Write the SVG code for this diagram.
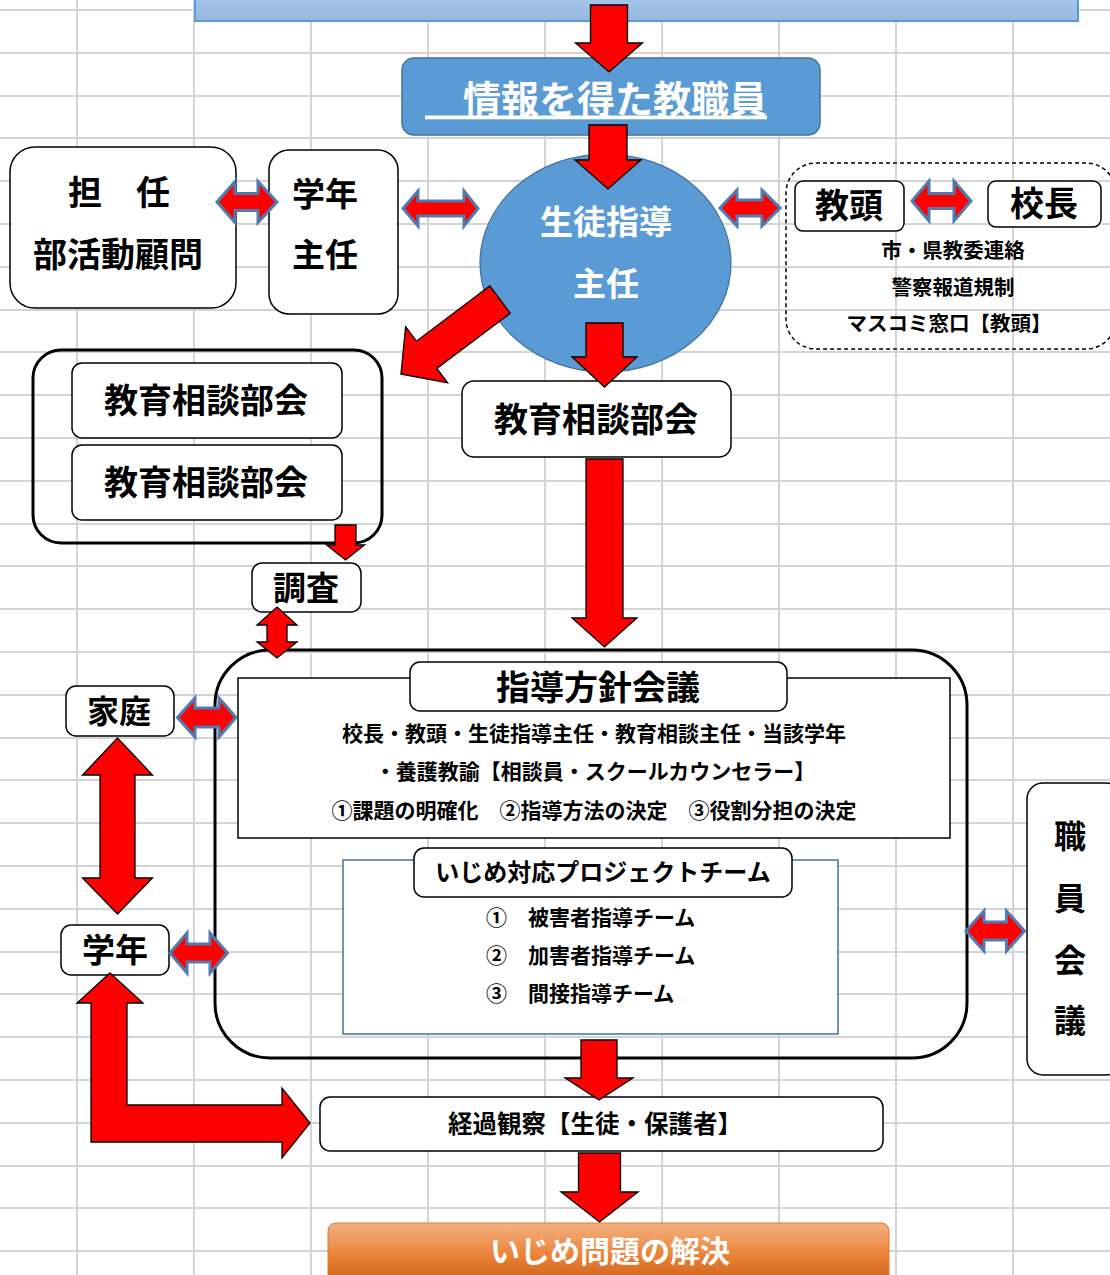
<svg xmlns="http://www.w3.org/2000/svg" width="1110" height="1275" viewBox="0 0 1110 1275">
<style>
.grid line{stroke:#d4d4d4;stroke-width:2}
.box{fill:#fff;stroke:#000;stroke-width:1.5}
.t{font-family:"Noto Sans CJK JP","Noto Sans",sans-serif;font-weight:700;fill:#000;text-anchor:middle;dominant-baseline:central}
.l{text-anchor:start}
.w{fill:#fff}
.red{fill:#ff0000;stroke:#000;stroke-width:1.3;stroke-linejoin:miter}
.dbl{fill:#ff0000;stroke:#4f7bb0;stroke-width:3;stroke-linejoin:miter}
</style>
<defs>
<linearGradient id="gTop" x1="0" y1="0" x2="0" y2="1"><stop offset="0" stop-color="#b4d0ef"/><stop offset="1" stop-color="#95b8e2"/></linearGradient>
<linearGradient id="gOr" x1="0" y1="0" x2="0" y2="1"><stop offset="0" stop-color="#f4b183"/><stop offset="0.5" stop-color="#e97f33"/><stop offset="1" stop-color="#c0540f"/></linearGradient>
</defs>
<rect width="1110" height="1275" fill="#fff"/>
<g class="grid">
<line x1="77" y1="0" x2="77" y2="1275"/><line x1="194" y1="0" x2="194" y2="1275"/><line x1="311" y1="0" x2="311" y2="1275"/><line x1="428" y1="0" x2="428" y2="1275"/><line x1="545" y1="0" x2="545" y2="1275"/><line x1="662" y1="0" x2="662" y2="1275"/><line x1="779" y1="0" x2="779" y2="1275"/><line x1="896" y1="0" x2="896" y2="1275"/><line x1="1013" y1="0" x2="1013" y2="1275"/>
<line x1="0" y1="10" x2="1110" y2="10"/><line x1="0" y1="53" x2="1110" y2="53"/><line x1="0" y1="96" x2="1110" y2="96"/><line x1="0" y1="138" x2="1110" y2="138"/><line x1="0" y1="181" x2="1110" y2="181"/><line x1="0" y1="224" x2="1110" y2="224"/><line x1="0" y1="267" x2="1110" y2="267"/><line x1="0" y1="310" x2="1110" y2="310"/><line x1="0" y1="352" x2="1110" y2="352"/><line x1="0" y1="395" x2="1110" y2="395"/><line x1="0" y1="438" x2="1110" y2="438"/><line x1="0" y1="481" x2="1110" y2="481"/><line x1="0" y1="524" x2="1110" y2="524"/><line x1="0" y1="566" x2="1110" y2="566"/><line x1="0" y1="609" x2="1110" y2="609"/><line x1="0" y1="652" x2="1110" y2="652"/><line x1="0" y1="695" x2="1110" y2="695"/><line x1="0" y1="738" x2="1110" y2="738"/><line x1="0" y1="780" x2="1110" y2="780"/><line x1="0" y1="823" x2="1110" y2="823"/><line x1="0" y1="866" x2="1110" y2="866"/><line x1="0" y1="909" x2="1110" y2="909"/><line x1="0" y1="952" x2="1110" y2="952"/><line x1="0" y1="994" x2="1110" y2="994"/><line x1="0" y1="1037" x2="1110" y2="1037"/><line x1="0" y1="1080" x2="1110" y2="1080"/><line x1="0" y1="1123" x2="1110" y2="1123"/><line x1="0" y1="1166" x2="1110" y2="1166"/><line x1="0" y1="1208" x2="1110" y2="1208"/><line x1="0" y1="1251" x2="1110" y2="1251"/>
</g>

<g id="top-box"><rect x="195" y="-20" width="883" height="41" fill="url(#gTop)" stroke="#5b9bd5" stroke-width="2"/></g>

<g id="info-staff">
<rect x="402" y="58" width="418" height="77" rx="12" fill="#5b9bd5" stroke="#41719c" stroke-width="1.5"/>
<text class="t w" x="596" y="96" font-size="38" text-decoration="underline">　情報を得た教職員</text>
</g>

<g id="guidance-head">
<ellipse cx="605.5" cy="263" rx="125.5" ry="109" fill="#5b9bd5" stroke="#41719c" stroke-width="1.2"/>
<text class="t w" x="606" y="220" font-size="33" font-weight="500">生徒指導</text>
<text class="t w" x="606" y="282" font-size="33" font-weight="500">主任</text>
</g>

<g id="homeroom">
<rect class="box" x="10" y="147" width="226" height="161" rx="25"/>
<text class="t" x="119" y="190" font-size="34">担　任</text>
<text class="t" x="118" y="252" font-size="34">部活動顧問</text>
</g>

<g id="grade-head">
<rect class="box" x="269" y="150" width="129" height="164" rx="20"/>
<text class="t" x="325" y="192" font-size="33">学年</text>
<text class="t" x="325" y="253" font-size="33">主任</text>
</g>

<g id="admin-group">
<rect x="786" y="163" width="330" height="186" rx="30" fill="none" stroke="#000" stroke-width="1.5" stroke-dasharray="4 3"/>
<text class="t" x="953" y="249" font-size="20.5">市・県教委連絡</text>
<text class="t" x="953" y="286" font-size="20.5">警察報道規制</text>
<text class="t" x="949" y="322" font-size="20.5">マスコミ窓口【教頭】</text>
</g>
<g id="vice-principal">
<rect class="box" x="795" y="181" width="109" height="50" rx="8"/>
<text class="t" x="849" y="203" font-size="34">教頭</text>
</g>
<g id="principal">
<rect class="box" x="988" y="181" width="113" height="46" rx="8"/>
<text class="t" x="1044" y="201" font-size="34">校長</text>
</g>

<g id="counsel-group">
<rect x="33" y="350" width="349" height="193" rx="28" fill="none" stroke="#000" stroke-width="3"/>
</g>
<g id="counsel-a">
<rect class="box" x="72" y="363" width="270" height="75" rx="10"/>
<text class="t" x="206" y="398" font-size="34">教育相談部会</text>
</g>
<g id="counsel-b">
<rect class="box" x="72" y="445" width="270" height="75" rx="10"/>
<text class="t" x="206" y="480" font-size="34">教育相談部会</text>
</g>

<g id="counsel-center">
<rect class="box" x="462" y="381" width="269" height="76" rx="12"/>
<text class="t" x="596" y="417" font-size="34">教育相談部会</text>
</g>

<g id="survey">
<rect class="box" x="252" y="563" width="109" height="49" rx="10"/>
<text class="t" x="306" y="586" font-size="33">調査</text>
</g>

<g id="policy-frame">
<rect x="215" y="650" width="752" height="408" rx="55" fill="none" stroke="#000" stroke-width="3"/>
</g>
<g id="policy-meeting">
<rect x="238" y="678" width="712" height="160" fill="#fff" stroke="#000" stroke-width="1.5"/>
<rect class="box" x="410" y="662" width="377" height="49" rx="10"/>
<text class="t" x="598" y="685" font-size="34">指導方針会議</text>
<text class="t" x="594" y="732" font-size="21">校長・教頭・生徒指導主任・教育相談主任・当該学年</text>
<text class="t" x="595" y="770" font-size="21">・養護教諭【相談員・スクールカウンセラー】</text>
<text class="t" x="594" y="809" font-size="21">①課題の明確化　②指導方法の決定　③役割分担の決定</text>
</g>

<g id="project-team">
<rect x="343" y="860" width="495" height="174" fill="#fff" stroke="#41719c" stroke-width="1.5"/>
<rect class="box" x="414" y="848" width="378" height="49" rx="10"/>
<text class="t" x="603" y="870" font-size="24">いじめ対応プロジェクトチーム</text>
<text class="t l" x="486" y="916" font-size="21">①　被害者指導チーム</text>
<text class="t l" x="486" y="954" font-size="21">②　加害者指導チーム</text>
<text class="t l" x="486" y="992" font-size="21">③　間接指導チーム</text>
</g>

<g id="home">
<rect class="box" x="66" y="686" width="108" height="50" rx="10"/>
<text class="t" x="119" y="709" font-size="32">家庭</text>
</g>
<g id="grade">
<rect class="box" x="61" y="925" width="108" height="50" rx="10"/>
<text class="t" x="115" y="948" font-size="33">学年</text>
</g>
<g id="staff-meeting">
<rect class="box" x="1027" y="783" width="95" height="292" rx="16"/>
<text class="t" x="1070" y="834" font-size="32">職</text>
<text class="t" x="1070" y="896" font-size="32">員</text>
<text class="t" x="1070" y="958" font-size="32">会</text>
<text class="t" x="1070" y="1018" font-size="32">議</text>
</g>
<g id="observation">
<rect class="box" x="320" y="1097" width="563" height="54" rx="10"/>
<text class="t" x="595" y="1122" font-size="24.5">経過観察【生徒・保護者】</text>
</g>
<g id="resolution">
<rect x="328" y="1223" width="561" height="70" rx="8" fill="url(#gOr)" stroke="#e07a30" stroke-width="1"/>
<text class="t w" x="610" y="1249" font-size="30">いじめ問題の解決</text>
</g>

<g id="connectors">
<polygon class="red" points="590.5,5 627.5,5 627.5,43 642.5,43 609,72 575.5,43 590.5,43"/>
<polygon class="red" points="589,125 627,125 627,160 641,160 608,189 575,160 589,160"/>
<polygon class="red" points="586,323 623,323 623,357 637,357 604.5,387 572,357 586,357"/>
<polygon class="red" points="586,459 623,459 623,618 637,618 604.5,647 572,618 586,618"/>
<polygon class="red" points="401,374 447.6,382.8 436.8,368.4 510.2,313.2 489.8,286 416.4,341.2 405.6,326.8"/>
<polygon class="red" points="335,525 356,525 356,545 364.5,545 345.5,560 326.5,545 335,545"/>
<polygon class="red" points="277,607 297,625 287,625 287,642 297,642 277,658 257,642 267,642 267,625 257,625"/>
<polygon class="red" points="117.5,738 152.5,775 135,775 135,878 152.5,878 117.5,914 82.5,878 100,878 100,775 82.5,775"/>
<polygon class="red" points="110,973 143,1003 127,1003 127,1105 282,1105 282,1088 310,1123 282,1158 282,1142 91,1142 91,1003 77,1003"/>
<polygon class="red" points="581,1040 617,1040 617,1078 633,1078 599,1100 565,1078 581,1078"/>
<polygon class="red" points="578.5,1153 620.5,1153 620.5,1192 638,1192 599.5,1222 561,1192 578.5,1192"/>
<polygon class="dbl" points="217,202 235,181.5 235,193.5 258,193.5 258,181.5 277,202 258,222.5 258,210.5 235,210.5 235,222.5"/>
<polygon class="dbl" points="403,208.5 418,191 418,201 464,201 464,191 478,208.5 464,226 464,216 418,216 418,226"/>
<polygon class="dbl" points="720,208 737,190 737,200 762,200 762,190 780,208 762,226 762,216 737,216 737,226"/>
<polygon class="dbl" points="912,201 929,181 929,193.5 954,193.5 954,181 971,201 954,221 954,208.5 929,208.5 929,221"/>
<polygon class="dbl" points="177.5,717.5 195,698 195,708 219,708 219,698 236,717.5 219,737 219,727 195,727 195,737"/>
<polygon class="dbl" points="170,953 187,933 187,944 210,944 210,933 227.5,953 210,973 210,962 187,962 187,973"/>
<polygon class="dbl" points="966,931 984,911 984,922 1006.5,922 1006.5,911 1024.5,931 1006.5,951 1006.5,940 984,940 984,951"/>
</g>
</svg>
